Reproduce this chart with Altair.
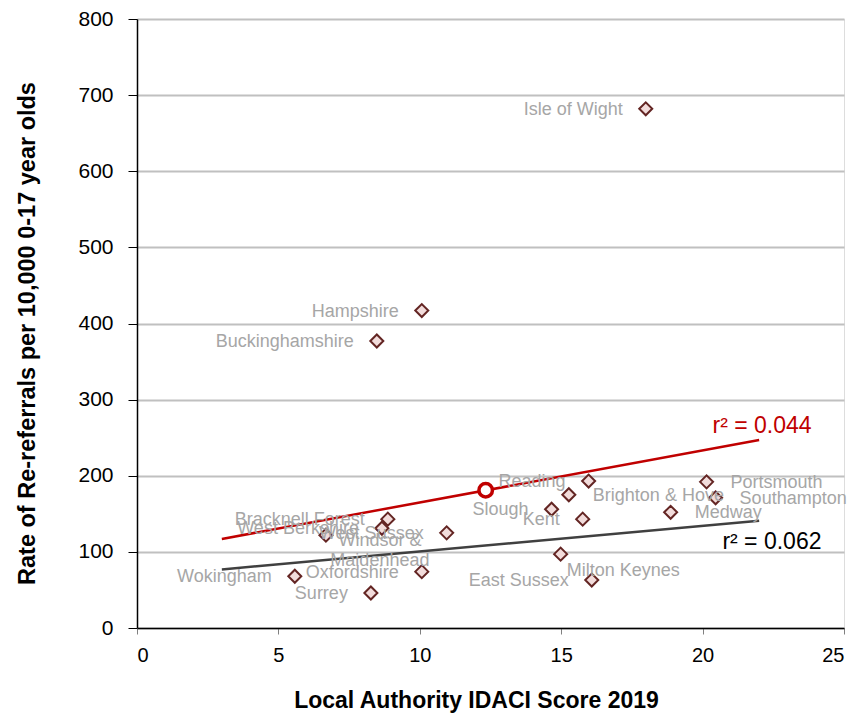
import altair as alt
import pandas as pd

# ---- data ----
names = ["Isle of Wight", "Hampshire", "Buckinghamshire", "Bracknell Forest",
         "West Berkshire", "Windsor &\nMaidenhead", "West Sussex", "Wokingham",
         "Oxfordshire", "Surrey", "Reading", "Brighton & Hove", "Slough", "Kent",
         "Portsmouth", "Southampton", "Medway", "Milton Keynes", "East Sussex"]
idaci = [17.99, 10.07, 8.48, 8.87, 8.66, 6.68, 10.95, 5.58, 10.07, 8.27,
         15.97, 15.27, 14.66, 15.76, 20.14, 20.46, 18.87, 14.98, 16.08]
rate = [682, 417, 377, 143, 131, 122, 125, 68, 74, 46,
        193, 175, 156, 143, 192, 171, 152, 97, 63]

# label placement groups
right_labelled = ["Brighton & Hove", "Portsmouth", "Southampton", "Medway"]
special_windsor = ["Windsor &\nMaidenhead"]
special_mk = ["Milton Keynes"]

# highlighted point (South East)
hl_x = [12.33]
hl_y = [181]

# trend line end points
trend_x = [3, 22]
red_trend_y = [117, 247]
grey_trend_y = [77, 141]

# r² annotations
r2_text = ["r² = 0.044", "r² = 0.062"]
r2_x = [20.35, 20.7]
r2_y = [265, 113]
r2_series = ["red", "grey"]

x_ticks = [0, 5, 10, 15, 20, 25]
y_ticks = [0, 100, 200, 300, 400, 500, 600, 700, 800]

FONT = "Liberation Sans"

df = pd.DataFrame({"name": names, "x": idaci, "y": rate})
df["side"] = ["right" if n in right_labelled else
              ("windsor" if n in special_windsor else
               ("mk" if n in special_mk else "left")) for n in names]

hl = pd.DataFrame({"x": hl_x, "y": hl_y})
trend = pd.DataFrame({
    "x": trend_x * 2,
    "y": red_trend_y + grey_trend_y,
    "series": ["red"] * 2 + ["grey"] * 2,
})
r2 = pd.DataFrame({"text": r2_text, "x": r2_x, "y": r2_y, "series": r2_series})

xs = alt.Scale(domain=[0, 25], nice=False)
ys = alt.Scale(domain=[0, 800], nice=False)

X = alt.X("x:Q", scale=xs, title="Local Authority IDACI Score 2019",
          axis=alt.Axis(values=x_ticks, grid=False, tickSize=6, tickColor="#808080",
                        domainColor="black", domainWidth=1.5, labelFontSize=20,
                        labelColor="black", labelPadding=11, titleFontSize=23,
                        titleFontWeight="bold", titleColor="black", titlePadding=24,
                        titleX=339, zindex=1, labelFont=FONT, titleFont=FONT))
Y = alt.Y("y:Q", scale=ys, title="Rate of Re-referrals per 10,000 0-17 year olds",
          axis=alt.Axis(values=y_ticks, grid=True, gridColor="#C0C0C0", gridWidth=2,
                        tickSize=9, tickColor="black", domainColor="black",
                        domainWidth=1.5, labelFontSize=21, labelColor="black",
                        labelPadding=15, titleFontSize=23.5, titleFontWeight="bold",
                        titleColor="black", titlePadding=38, titleY=314,
                        labelFont=FONT, titleFont=FONT))

base = alt.Chart(df)

lines = alt.Chart(trend).mark_line(strokeWidth=2.5).encode(
    x=alt.X("x:Q", scale=xs),
    y=alt.Y("y:Q", scale=ys),
    color=alt.Color("series:N", scale=alt.Scale(domain=["red", "grey"],
                                                 range=["#C00000", "#404040"]),
                    legend=None),
    detail="series:N",
)

label_color = "#A6A6A6"
LFS = 18
left_labels = base.transform_filter(alt.datum.side == "left").mark_text(
    align="right", baseline="middle", dx=-23, dy=1, fontSize=LFS,
    color=label_color, font=FONT).encode(x=alt.X("x:Q", scale=xs),
                                         y=alt.Y("y:Q", scale=ys), text="name:N")
right_labels = base.transform_filter(alt.datum.side == "right").mark_text(
    align="left", baseline="middle", dx=24, dy=1, fontSize=LFS,
    color=label_color, font=FONT).encode(x=alt.X("x:Q", scale=xs),
                                         y=alt.Y("y:Q", scale=ys), text="name:N")
windsor_label = base.transform_filter(alt.datum.side == "windsor").mark_text(
    align="center", baseline="middle", dx=54, dy=6, fontSize=LFS, lineBreak="\n",
    lineHeight=20, color=label_color, font=FONT).encode(
        x=alt.X("x:Q", scale=xs), y=alt.Y("y:Q", scale=ys), text="name:N")
mk_label = base.transform_filter(alt.datum.side == "mk").mark_text(
    align="left", baseline="middle", dx=6, dy=17, fontSize=LFS,
    color=label_color, font=FONT).encode(x=alt.X("x:Q", scale=xs),
                                         y=alt.Y("y:Q", scale=ys), text="name:N")

points = base.mark_point(shape="diamond", size=169, filled=True, fill="#F2DCDB",
                         stroke="#632523", strokeWidth=2, opacity=1).encode(x=X, y=Y)

highlight = alt.Chart(hl).mark_point(shape="circle", size=182, filled=True,
                                     fill="white", stroke="#C00000",
                                     strokeWidth=3.5, opacity=1).encode(
    x=alt.X("x:Q", scale=xs), y=alt.Y("y:Q", scale=ys))

r2_labels = alt.Chart(r2).mark_text(align="left", baseline="middle", fontSize=23,
                                    font=FONT).encode(
    x=alt.X("x:Q", scale=xs), y=alt.Y("y:Q", scale=ys), text="text:N",
    color=alt.Color("series:N", scale=alt.Scale(domain=["red", "grey"],
                                                 range=["#C00000", "black"]),
                    legend=None))

chart = alt.layer(points, lines, left_labels, right_labels, windsor_label, mk_label,
                  highlight, r2_labels).resolve_scale(color="independent").properties(
    width=707, height=609,
    autosize=alt.AutoSizeParams(type="none"),
    padding={"left": 129, "top": 11, "right": 14, "bottom": 86},
).configure_view(stroke="#808080", strokeWidth=1).configure(font=FONT, background="white")

chart.save("out.html", embed_options={"renderer": "svg", "actions": False})
